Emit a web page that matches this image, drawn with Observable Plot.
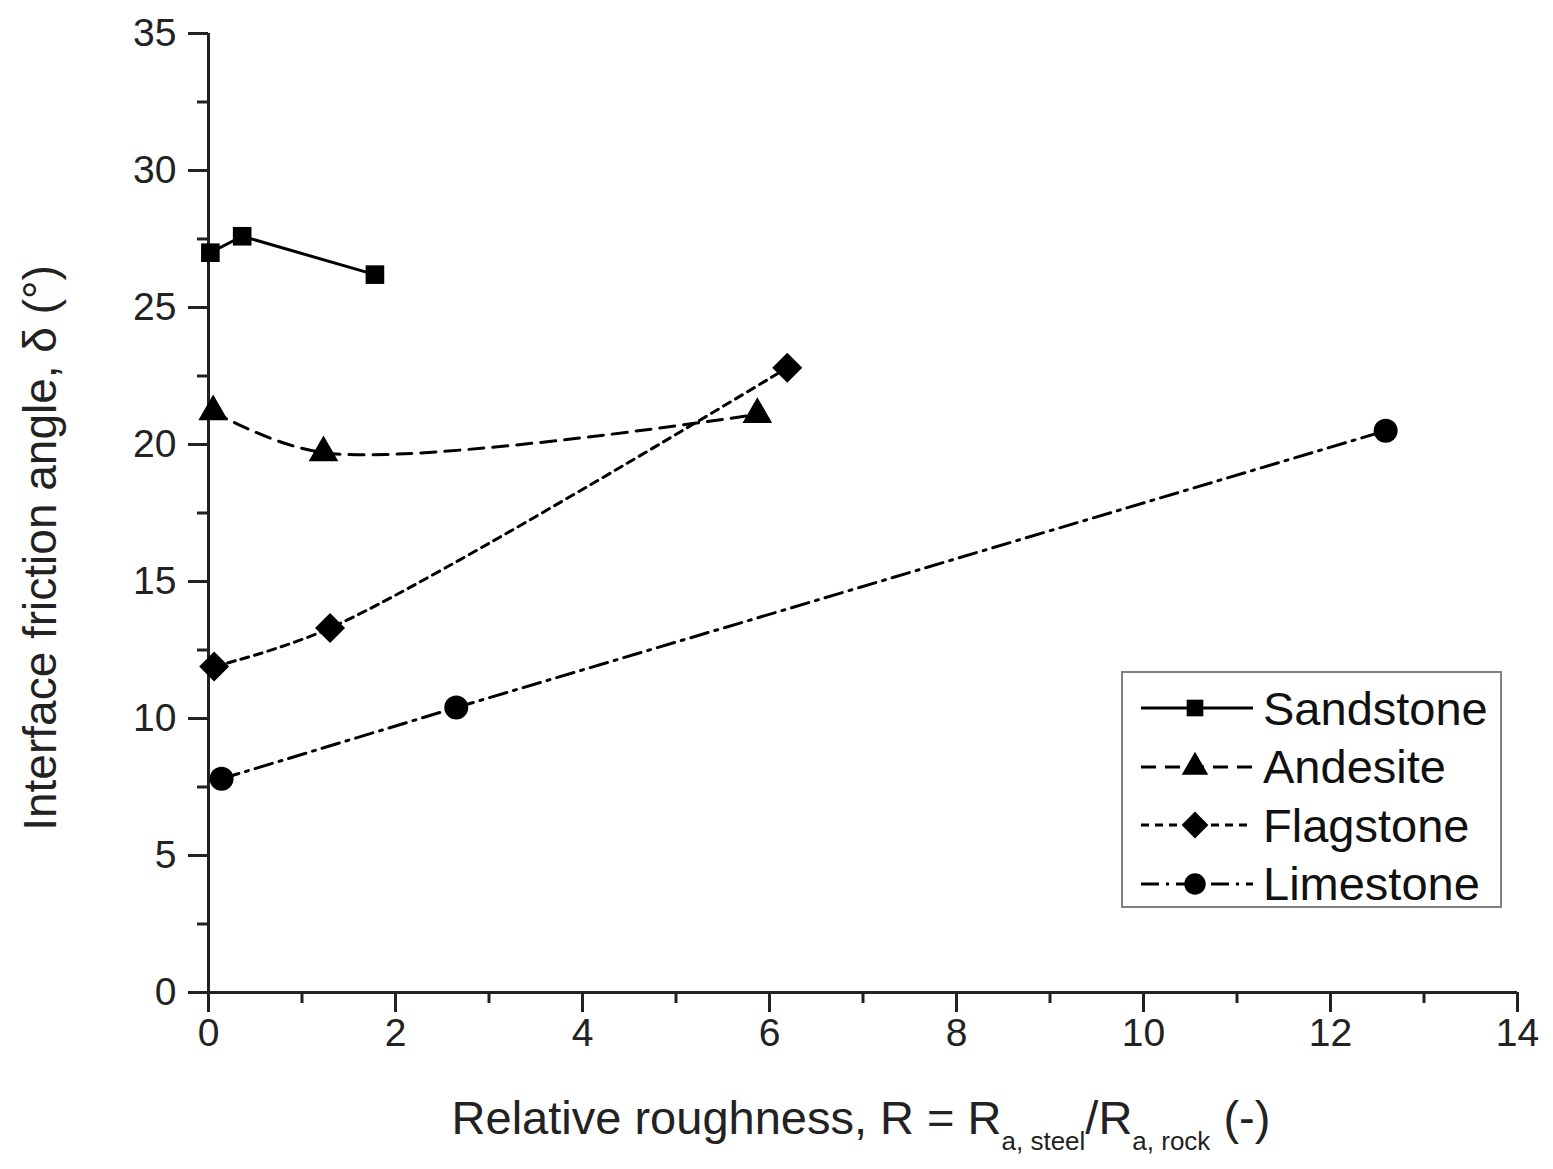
<!DOCTYPE html>
<html>
<head>
<meta charset="utf-8">
<script src="https://cdn.jsdelivr.net/npm/d3@7"></script>
<script src="https://cdn.jsdelivr.net/npm/@observablehq/plot@0.6"></script>
<style>
  html, body { margin: 0; padding: 0; background: #fff; }
  #chart { position: relative; width: 1553px; height: 1169px; font-family: "Liberation Sans", Arial, sans-serif; }
  #legend {
    position: absolute; left: 1121px; top: 671px; width: 377px; height: 233px;
    border: 2px solid #808080; background: #fff; box-sizing: content-box;
  }
  .row { position: absolute; left: 0; height: 58px; display: flex; align-items: center; }
  .row span { font-size: 47px; color: #111; margin-left: 10px; }
</style>
</head>
<body>
<div id="chart"></div>
<script>
// Interface friction angle vs relative roughness, one series per rock type
const sandstoneX = [0.02, 0.36, 1.78];
const sandstoneY = [27.0, 27.6, 26.2];
const andesiteX  = [0.05, 1.23, 5.87];
const andesiteY  = [21.2, 19.7, 21.1];
const flagstoneX = [0.06, 1.30, 6.19];
const flagstoneY = [11.9, 13.3, 22.8];
const limestoneX = [0.14, 2.65, 12.59];
const limestoneY = [7.8, 10.4, 20.5];

const xMajor = [0, 2, 4, 6, 8, 10, 12, 14];
const xMinor = [1, 3, 5, 7, 9, 11, 13];
const yMajor = [0, 5, 10, 15, 20, 25, 30, 35];
const yMinor = [2.5, 7.5, 12.5, 17.5, 22.5, 27.5, 32.5];

const seriesNames = ["Sandstone", "Andesite", "Flagstone", "Limestone"];

const toRows = (xs, ys) => xs.map((x, i) => ({x, y: ys[i]}));

const series = [
  {name: seriesNames[0], rows: toRows(sandstoneX, sandstoneY), dash: null, curve: "linear", symbol: "square", r: 10.5},
  {name: seriesNames[1], rows: toRows(andesiteX, andesiteY), dash: "15,9", curve: "catmull-rom", symbol: "triangle", r: 11},
  {name: seriesNames[2], rows: toRows(flagstoneX, flagstoneY), dash: "8,6", curve: "catmull-rom", symbol: "diamond2", r: 13.5},
  {name: seriesNames[3], rows: toRows(limestoneX, limestoneY), dash: "18,7,3,7", curve: "linear", symbol: "circle", r: 12}
];

const lineMarks = series.flatMap(s => [
  Plot.line(s.rows, {x: "x", y: "y", stroke: "#000", strokeWidth: 3, strokeDasharray: s.dash, curve: s.curve}),
  Plot.dot(s.rows, {x: "x", y: "y", symbol: s.symbol, r: s.r, fill: "#000", stroke: "none"})
]);

const plot = Plot.plot({
  width: 1553,
  height: 1169,
  marginLeft: 208,
  marginRight: 36,
  marginTop: 33,
  marginBottom: 177,
  style: {fontFamily: "Liberation Sans, Arial, sans-serif", fontSize: "39px", color: "#222", background: "#fff"},
  x: {domain: [0, 14]},
  y: {domain: [0, 35]},
  marks: [
    Plot.axisX(xMajor, {tickSize: 20, tickPadding: 6, strokeWidth: 3, label: null, fontSize: 39, tickFormat: d => String(d)}),
    Plot.axisX(xMinor, {tickSize: 11, strokeWidth: 3, label: null, tickFormat: () => ""}),
    Plot.axisY(yMajor, {tickSize: 20, tickPadding: 12, strokeWidth: 3, label: null, fontSize: 39, tickFormat: d => String(d)}),
    Plot.axisY(yMinor, {tickSize: 11, strokeWidth: 3, label: null, tickFormat: () => ""}),
    Plot.ruleX([0], {strokeWidth: 3, stroke: "#222"}),
    Plot.ruleY([0], {strokeWidth: 3, stroke: "#222"}),
    ...lineMarks
  ]
});

document.getElementById("chart").appendChild(plot);

// Axis titles (x title carries subscripts, so they are written as tspans)
const svg = d3.select(plot);
const xt = svg.append("text")
  .attr("x", 861).attr("y", 1134)
  .attr("text-anchor", "middle")
  .attr("font-size", 47).attr("fill", "#222");
xt.append("tspan").text("Relative roughness, R = R");
xt.append("tspan").attr("font-size", 26).attr("dy", 16).text("a, steel");
xt.append("tspan").attr("dy", -16).text("/R");
xt.append("tspan").attr("font-size", 26).attr("dy", 16).text("a, rock");
xt.append("tspan").attr("dy", -16).text(" (-)");

svg.append("text")
  .attr("transform", "translate(56,548) rotate(-90)")
  .attr("text-anchor", "middle")
  .attr("font-size", 46).attr("fill", "#222")
  .text("Interface friction angle, δ (°)");

// Legend box
const legend = d3.select("#chart").append("div").attr("id", "legend");
const symbolPath = s => d3.symbol(
  {square: d3.symbolSquare, triangle: d3.symbolTriangle, diamond2: d3.symbolDiamond2, circle: d3.symbolCircle}[s.symbol],
  Math.PI * s.r * s.r * 0.8
)();
series.forEach((s, i) => {
  const row = legend.append("div").attr("class", "row").style("top", (6 + i * 58.5) + "px").style("left", "18px");
  const sv = row.append("svg").attr("width", 112).attr("height", 40);
  sv.append("line").attr("x1", 0).attr("x2", 112).attr("y1", 20).attr("y2", 20)
    .attr("stroke", "#000").attr("stroke-width", 3).attr("stroke-dasharray", s.dash);
  sv.append("path").attr("d", symbolPath(s)).attr("transform", "translate(54,20)").attr("fill", "#000");
  row.append("span").text(s.name);
});
</script>
</body>
</html>
